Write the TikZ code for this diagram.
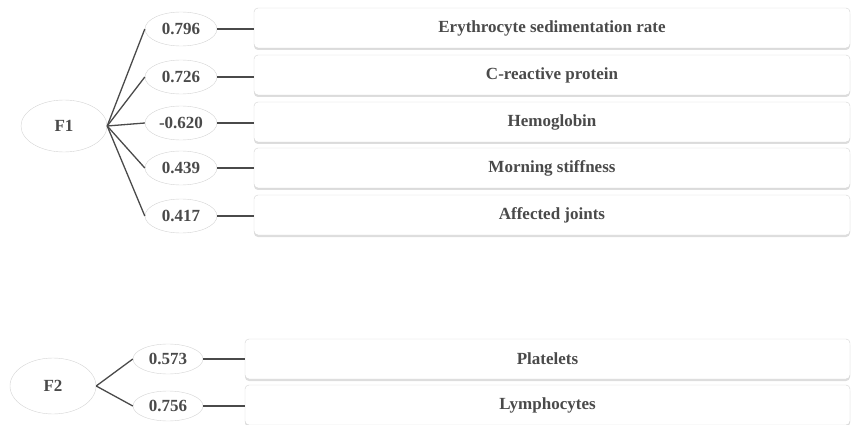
\documentclass[tikz,border=0pt]{standalone}
\usepackage{fontspec}
\setmainfont{Liberation Serif}
\usetikzlibrary{positioning,shapes.geometric,shadows}
\definecolor{ink}{HTML}{4A4A4A}
\definecolor{rim}{HTML}{D4D4D4}
\tikzset{x=1pt, y=-1pt,
font=\fontsize{17}{20}\selectfont\bfseries, % bold serif for every label
text=ink,
factor/.style={ellipse, draw=rim, fill=white, inner sep=0pt, minimum width=86pt, minimum height=52pt}, % F1, F2
loading/.style={ellipse, draw=rim, fill=white, inner sep=0pt, minimum width=72pt, minimum height=34pt}, % the loadings
item/.style={rectangle, rounded corners=4pt, draw=rim, fill=white, inner sep=0pt, minimum width=596pt, minimum height=40pt,
  drop shadow={shadow xshift=0pt, shadow yshift=-2pt, fill=gray!45, opacity=0.6}}, % the variables
link/.style={draw=ink, line width=1.3pt},
}
\begin{document}
\begin{tikzpicture}
\useasboundingbox (0,0) rectangle (852,425);

% first factor
\node[factor] (f1) at (64,126) {F1};
\node[loading] (l1) at (181,29) {0.796};
\node[loading] (l2) at (181,77) {0.726};
\node[loading] (l3) at (181,123) {-0.620};
\node[loading] (l4) at (181,168) {0.439};
\node[loading] (l5) at (181,216) {0.417};
\node[item] (v1) at (552,28) {Erythrocyte sedimentation rate};
\node[item] (v2) at (552,75) {C-reactive protein};
\node[item] (v3) at (552,122) {Hemoglobin};
\node[item] (v4) at (552,168) {Morning stiffness};
\node[item] (v5) at (552,215) {Affected joints};

% second factor
\node[factor, minimum height=56pt] (f2) at (53,386) {F2};
\node[loading, minimum width=70pt, minimum height=30pt] (l6) at (168,359) {0.573};
\node[loading, minimum width=70pt, minimum height=30pt] (l7) at (168,406) {0.756};
\node[item, minimum width=605pt] (v6) at (547.5,359) {Platelets};
\node[item, minimum width=605pt] (v7) at (547.5,405) {Lymphocytes};

\foreach \i in {1,...,5}
  \draw[link] (f1.east) -- (l\i.west);
\foreach \i in {6,7}
  \draw[link] (f2.east) -- (l\i.west);
\foreach \i in {1,...,7}
  \draw[link] (l\i.east) -- (l\i.east -| v\i.west);

\end{tikzpicture}
\end{document}
